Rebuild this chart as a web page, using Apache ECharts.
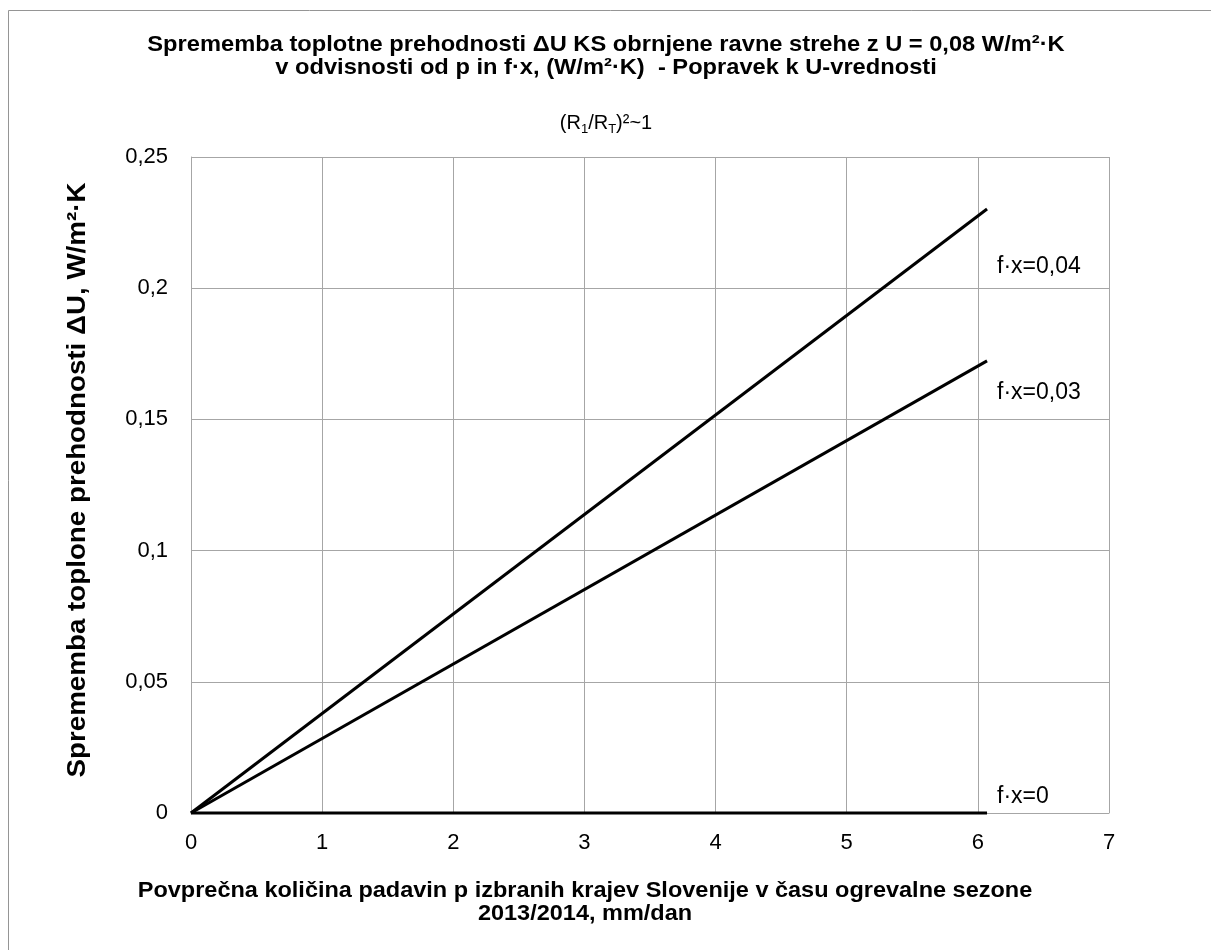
<!DOCTYPE html>
<html>
<head>
<meta charset="utf-8">
<script src="https://cdn.jsdelivr.net/npm/echarts@6/dist/echarts.min.js"></script>
<style>
  html, body { margin: 0; padding: 0; background: #ffffff; }
  #chart { width: 1211px; height: 950px; }
</style>
</head>
<body>
<div id="chart"></div>
<script>
// Precipitation p (mm/dan) at the ends of each line
const precip = [0, 6.07];
// ΔU correction (W/m²·K) for each f·x value
const dU_fx004 = [0, 0.2302];
const dU_fx003 = [0, 0.1723];
const dU_fx0 = [0, 0];
const seriesNames = ['f·x=0,04', 'f·x=0,03', 'f·x=0'];
const xTicks = [0, 1, 2, 3, 4, 5, 6, 7];
const yTicks = [0, 0.05, 0.1, 0.15, 0.2, 0.25];

const FONT = "'Liberation Sans', Arial, sans-serif";
const GRID_C = '#a6a6a6';

function pairs(xs, ys) { return xs.map((x, i) => [x, ys[i]]); }
function comma(v) { return String(v).replace('.', ','); }

const labelOffsets = [[0, 58], [0, 32], [0, -16]];
const allY = [dU_fx004, dU_fx003, dU_fx0];

const chart = echarts.init(document.getElementById('chart'), null, { renderer: 'canvas' });

chart.setOption({
  backgroundColor: '#ffffff',
  animation: false,
  graphic: [
    {
      // outer frame
      type: 'rect',
      shape: { x: 8.5, y: 10.5, width: 1230, height: 960 },
      style: { fill: 'none', stroke: '#959595', lineWidth: 1 },
      silent: true, z: -1
    },
    {
      // chart title
      type: 'text', x: 606, y: 56.5, scaleX: 1.076, silent: true,
      style: {
        text: 'Sprememba toplotne prehodnosti ΔU KS obrnjene ravne strehe z U = 0,08 W/m²·K\nv odvisnosti od p in f·x, (W/m²·K)  - Popravek k U-vrednosti',
        font: 'bold 22px ' + FONT, lineHeight: 23, fill: '#000',
        align: 'center', verticalAlign: 'middle'
      }
    },
    {
      // subtitle with subscripts
      type: 'text', x: 606, y: 123, silent: true,
      style: {
        text: '{n|(R}{s|1}{n|/R}{s|T}{n|)²~1}',
        align: 'center', verticalAlign: 'middle',
        rich: {
          n: { fontFamily: FONT, fontSize: 20, fill: '#000', lineHeight: 26, verticalAlign: 'middle' },
          s: { fontFamily: FONT, fontSize: 13, fill: '#000', lineHeight: 26, verticalAlign: 'bottom' }
        }
      }
    },
    {
      // x-axis title
      type: 'text', x: 585, y: 902.5, scaleX: 1.068, silent: true,
      style: {
        text: 'Povprečna količina padavin p izbranih krajev Slovenije v času ogrevalne sezone\n2013/2014, mm/dan',
        font: 'bold 22px ' + FONT, lineHeight: 23, fill: '#000',
        align: 'center', verticalAlign: 'middle'
      }
    },
    {
      // y-axis title
      type: 'text', x: 78, y: 480, rotation: Math.PI / 2, scaleX: 1.11, silent: true,
      style: {
        text: 'Sprememba toplone prehodnosti ΔU, W/m²·K',
        font: 'bold 25px ' + FONT, fill: '#000',
        align: 'center', verticalAlign: 'middle'
      }
    }
  ],
  grid: { left: 191, top: 157, width: 918, height: 656, containLabel: false },
  xAxis: {
    type: 'value', min: 0, max: 7, interval: 1,
    axisLine: { show: true, lineStyle: { color: GRID_C, width: 1 } },
    axisTick: { show: false },
    splitLine: { show: true, lineStyle: { color: GRID_C, width: 1 } },
    axisLabel: {
      margin: 19, color: '#000', fontFamily: FONT, fontSize: 22,
      formatter: v => xTicks.includes(v) ? comma(v) : ''
    }
  },
  yAxis: {
    type: 'value', min: 0, max: 0.25, interval: 0.05,
    axisLine: { show: true, lineStyle: { color: GRID_C, width: 1 } },
    axisTick: { show: false },
    splitLine: { show: true, lineStyle: { color: GRID_C, width: 1 } },
    axisLabel: {
      margin: 23, color: '#000', fontFamily: FONT, fontSize: 22,
      formatter: v => {
        const t = yTicks.find(y => Math.abs(y - v) < 1e-9);
        return t === undefined ? '' : comma(+t.toFixed(2));
      }
    }
  },
  series: allY.map((ys, k) => ({
    type: 'line',
    name: seriesNames[k],
    data: pairs(precip, ys),
    symbol: 'none', showSymbol: false,
    lineStyle: { color: '#000', width: 3 },
    endLabel: {
      show: true, distance: 10, offset: labelOffsets[k],
      formatter: seriesNames[k], color: '#000',
      fontFamily: FONT, fontSize: 23
    },
    z: 3 - k,
    clip: false
  }))
});
</script>
</body>
</html>
